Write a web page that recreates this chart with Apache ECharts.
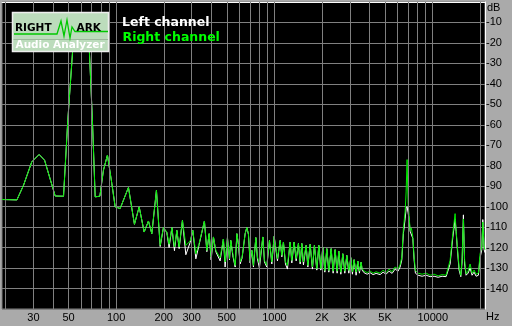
<!DOCTYPE html>
<html>
<head>
<meta charset="utf-8">
<script src="https://cdn.jsdelivr.net/npm/echarts@6/dist/echarts.min.js"></script>
<style>html,body{margin:0;padding:0;background:#aaaaaa;}#c{width:512px;height:326px;}</style>
</head>
<body>
<div id="c"></div>
<script>
// Frequencies (Hz) shared by both channels
const freqs = [19, 23.6, 26, 29.3, 32.6, 35.3, 41.2, 46.5, 49.5, 53, 55.1, 59.2, 63.6, 67.8, 70.8, 73.7, 78.9, 83.1, 88.1, 93.9, 98.6, 106,
  119.6, 130.5, 139.8, 150.3, 160, 168, 179.7, 189.7, 199, 209, 216, 225, 233.5, 241.8, 250, 262.3, 275.6, 293.4, 305, 318.8,
  334.4, 361.2, 374.1, 386.8, 398.2, 411.8, 426.4, 453.9, 476, 488, 505, 520, 530, 546, 565, 579, 592, 607, 625, 653,
  669, 685, 702, 720, 737, 763, 781, 804, 845, 865, 895, 930, 963, 996, 1045, 1087, 1114, 1140, 1174, 1208,
  1257, 1288, 1332, 1372, 1418, 1454, 1490, 1525, 1586, 1626, 1681, 1738, 1789, 1853, 1908, 1964, 2022, 2082, 2143, 2206,
  2282, 2349, 2418, 2490, 2551, 2627, 2704, 2784, 2867, 2951, 3038, 3110, 3188, 3282, 3364, 3443, 3530, 3581, 3687, 3852,
  4024, 4203, 4390, 4652, 4860, 5076, 5303, 5539, 5786, 6043, 6223, 6380, 6530, 6693, 6792, 6891, 6992, 7094, 7198, 7335,
  7487, 7630, 7775, 8087, 8570, 9085, 9630, 10205, 10817, 11467, 12150, 12880, 13396, 13852, 14054, 14322, 14682, 15049, 15336, 15628,
  15904, 16255, 16733, 17229, 17736, 18259, 18800, 19437, 19925, 20428, 20728, 21123, 21400];

// Right channel (green), dB
const rightDb = [-96.5, -96.7, -89.5, -78.1, -74.5, -77.3, -94.8, -94.9, -57.7, -24.8, -9, -6, -8, -24.8, -57.7, -95.2, -94.9, -82.2, -74.8, -88.7, -100.1, -100.9,
  -90.6, -108.6, -100.1, -112.4, -107, -113.2, -92, -118.9, -110.2, -112.4, -118.4, -110.2, -119.7, -111.6, -119.7, -106.7, -118.9, -116.8, -111.6, -123,
  -118, -107, -121.4, -113.2, -124.6, -114.8, -121.4, -125, -115.8, -127, -115.1, -125.4, -116.5, -123, -128.7, -113.2, -118, -127, -124.6, -113.2,
  -110.2, -113.2, -126.3, -121.4, -128.7, -115.1, -124.6, -127.9, -114.8, -126.3, -128.7, -116.5, -127, -114.5, -125.4, -116.5, -123.8, -117.3, -127, -128.7,
  -117.3, -126.3, -117.3, -125.4, -118, -127, -118, -127, -118.9, -128.7, -118.4, -129.5, -118.9, -130.3, -118.9, -130.3, -119.7, -131.2, -120.5, -131.2,
  -120.5, -131.5, -121, -131.5, -121.7, -132, -123, -131.5, -123.8, -131.2, -124.9, -131.8, -125.9, -132, -126.6, -131.5, -127.1, -130.3, -131.5, -132.2,
  -131.5, -132.5, -131.8, -132.5, -131, -132.3, -130.5, -131.8, -129.5, -130.5, -128.5, -124.6, -110.7, -102.6, -92.8, -77, -98.5, -104.2, -111.6, -110.5,
  -114.8, -124.6, -131.2, -132.5, -133, -132.5, -133.5, -133, -133.8, -133.2, -133.5, -126.3, -113.2, -103.4, -111.6, -119.7, -129.5, -133.6, -125, -106,
  -126, -132.8, -131.5, -128, -132.5, -131, -133, -132.5, -123, -119.7, -107.5, -119.7, -121];

// Left channel (white), dB
const leftDb = [-96.5, -96.7, -89.5, -78.1, -74.5, -77.3, -94.8, -94.9, -57.7, -24.8, -9, -6, -8, -24.8, -57.7, -95.2, -94.9, -82.2, -74.8, -88.7, -100.1, -100.9,
  -90.6, -108.6, -100.1, -112.4, -107, -113.2, -92, -119.5, -110.2, -112.6, -120, -110.2, -121.5, -111.6, -120.5, -106.7, -123.5, -117.5, -111.6, -125.5,
  -118.5, -107, -122, -113.2, -126, -114.8, -122, -126.5, -115.8, -129.5, -115.1, -126, -116.5, -124, -129.5, -113.2, -118.5, -128, -125, -113.2,
  -110.2, -113.5, -127.5, -121.4, -129.5, -115.1, -125.5, -130, -114.8, -127, -129.5, -116.5, -128, -114.5, -126.5, -116.5, -124.5, -117.3, -128, -130.5,
  -117.3, -127.5, -117.3, -126.5, -118, -128, -118, -128.5, -118.9, -129.5, -118.4, -130.5, -118.9, -131, -118.9, -131, -119.7, -132, -120.5, -132,
  -120.5, -132.5, -121, -132.5, -121.7, -133, -123, -132.5, -123.8, -132.5, -124.9, -133, -125.9, -133.5, -126.6, -132.5, -127.1, -131, -132.3, -133,
  -132.3, -133.2, -132.6, -133.2, -132, -133, -131.5, -132.6, -130.5, -131.5, -129.5, -126, -113, -106, -101, -100, -103, -106, -112, -112,
  -115.5, -126, -132.5, -133.5, -134, -133.5, -134.2, -134, -134.5, -134, -134.2, -128, -115, -106, -112, -121, -131, -134.2, -127, -104,
  -128, -133.5, -132.5, -130, -133.5, -132, -134, -133.5, -125, -121, -106.3, -121, -122.5];

// Vertical grid frequencies and tick labels
const gridFreqs = [20, 30, 40, 50, 60, 70, 80, 90, 100, 200, 300, 400, 500, 600, 700, 800, 900,
  1000, 2000, 3000, 4000, 5000, 6000, 7000, 8000, 9000, 10000, 20000];
const xTickValues = [30, 50, 100, 200, 300, 500, 1000, 2000, 3000, 5000, 10000];
const xTickLabels = ['30', '50', '100', '200', '300', '500', '1000', '2K', '3K', '5K', '10000'];

const chart = echarts.init(document.getElementById('c'), null, {renderer: 'canvas'});
const labelFont = {color: '#000', fontSize: 11, fontFamily: '"Liberation Sans", Arial, sans-serif'};

chart.setOption({
  animation: false,
  backgroundColor: '#aaaaaa',
  grid: {left: 2, top: 2, width: 483, bottom: 17, show: true, backgroundColor: '#000', borderColor: '#808080', borderWidth: 1},
  xAxis: {
    type: 'log', logBase: 10, min: 19, max: 21400,
    axisLine: {show: true, lineStyle: {color: '#ffffff', width: 1}},
    axisTick: {show: false},
    splitLine: {show: false},
    axisLabel: Object.assign({
      customValues: xTickValues, margin: 3,
      formatter: function (v) { const i = xTickValues.indexOf(Math.round(v)); return i >= 0 ? xTickLabels[i] : ''; }
    }, labelFont)
  },
  yAxis: {
    type: 'value', position: 'right', min: -150, max: 0, interval: 10,
    axisLine: {show: true, lineStyle: {color: '#ffffff', width: 1}},
    axisTick: {show: false},
    splitLine: {show: true, lineStyle: {color: '#808080', width: 1}},
    axisLabel: Object.assign({
      margin: 1, align: 'left',
      formatter: function (v) { return (v === 0 || v === -150) ? '' : String(v); }
    }, labelFont)
  },
  series: [
    {
      type: 'line', name: 'grid', data: [], z: 1, silent: true,
      markLine: {
        silent: true, symbol: ['none', 'none'], animation: false,
        label: {show: false},
        lineStyle: {color: '#808080', width: 1, type: 'solid'},
        data: gridFreqs.map(function (f) { return {xAxis: f}; })
      }
    },
    {
      type: 'line', name: 'Left channel', z: 3, showSymbol: false, clip: true,
      lineStyle: {color: '#ffffff', width: 1}, itemStyle: {color: '#ffffff'},
      data: freqs.map(function (f, i) { return [f, leftDb[i]]; })
    },
    {
      type: 'line', name: 'Right channel', z: 4, showSymbol: false, clip: true,
      lineStyle: {color: '#00ee00', width: 1}, itemStyle: {color: '#00ee00'},
      data: freqs.map(function (f, i) { return [f, rightDb[i]]; })
    }
  ],
  graphic: [
    {type: 'rect', z: 10, shape: {x: 12.5, y: 12.5, width: 96, height: 39}, style: {fill: '#bcdcbc', stroke: '#eeeeee', lineWidth: 1.5}},
    {type: 'line', z: 10, shape: {x1: 13.5, y1: 39.5, x2: 108, y2: 39.5}, style: {stroke: '#9cb89c', lineWidth: 1}},
    {type: 'polyline', z: 11, shape: {points: [[14, 34], [57, 34], [61, 21], [64, 36], [67, 20], [70, 38], [72, 27], [75, 31.5], [108, 31.5]]}, style: {stroke: '#00c800', fill: null, lineWidth: 1.3}},
    {type: 'text', z: 12, style: {x: 15, y: 28, text: 'RIGHT', font: 'bold 10.5px "DejaVu Sans"', fill: '#000', verticalAlign: 'middle'}},
    {type: 'text', z: 12, style: {x: 76.5, y: 28, text: 'ARK', font: 'bold 10.5px "DejaVu Sans"', fill: '#000', verticalAlign: 'middle'}},
    {type: 'text', z: 12, style: {x: 15.5, y: 45, text: 'Audio Analyzer', font: 'bold 10.5px "DejaVu Sans"', fill: '#ffffff', verticalAlign: 'middle'}},
    {type: 'text', z: 12, style: {x: 122, y: 22.5, text: 'Left channel', font: 'bold 12.5px "DejaVu Sans"', fill: '#ffffff', verticalAlign: 'middle'}},
    {type: 'text', z: 12, style: {x: 122.5, y: 38, text: 'Right channel', font: 'bold 12.5px "DejaVu Sans"', fill: '#00ff00', verticalAlign: 'middle'}},
    {type: 'text', z: 12, style: {x: 487, y: 8, text: 'dB', font: '11px "Liberation Sans"', fill: '#000', verticalAlign: 'middle'}},
    {type: 'text', z: 12, style: {x: 486, y: 317, text: 'Hz', font: '11px "Liberation Sans"', fill: '#000', verticalAlign: 'middle'}}
  ]
});
</script>
</body>
</html>
